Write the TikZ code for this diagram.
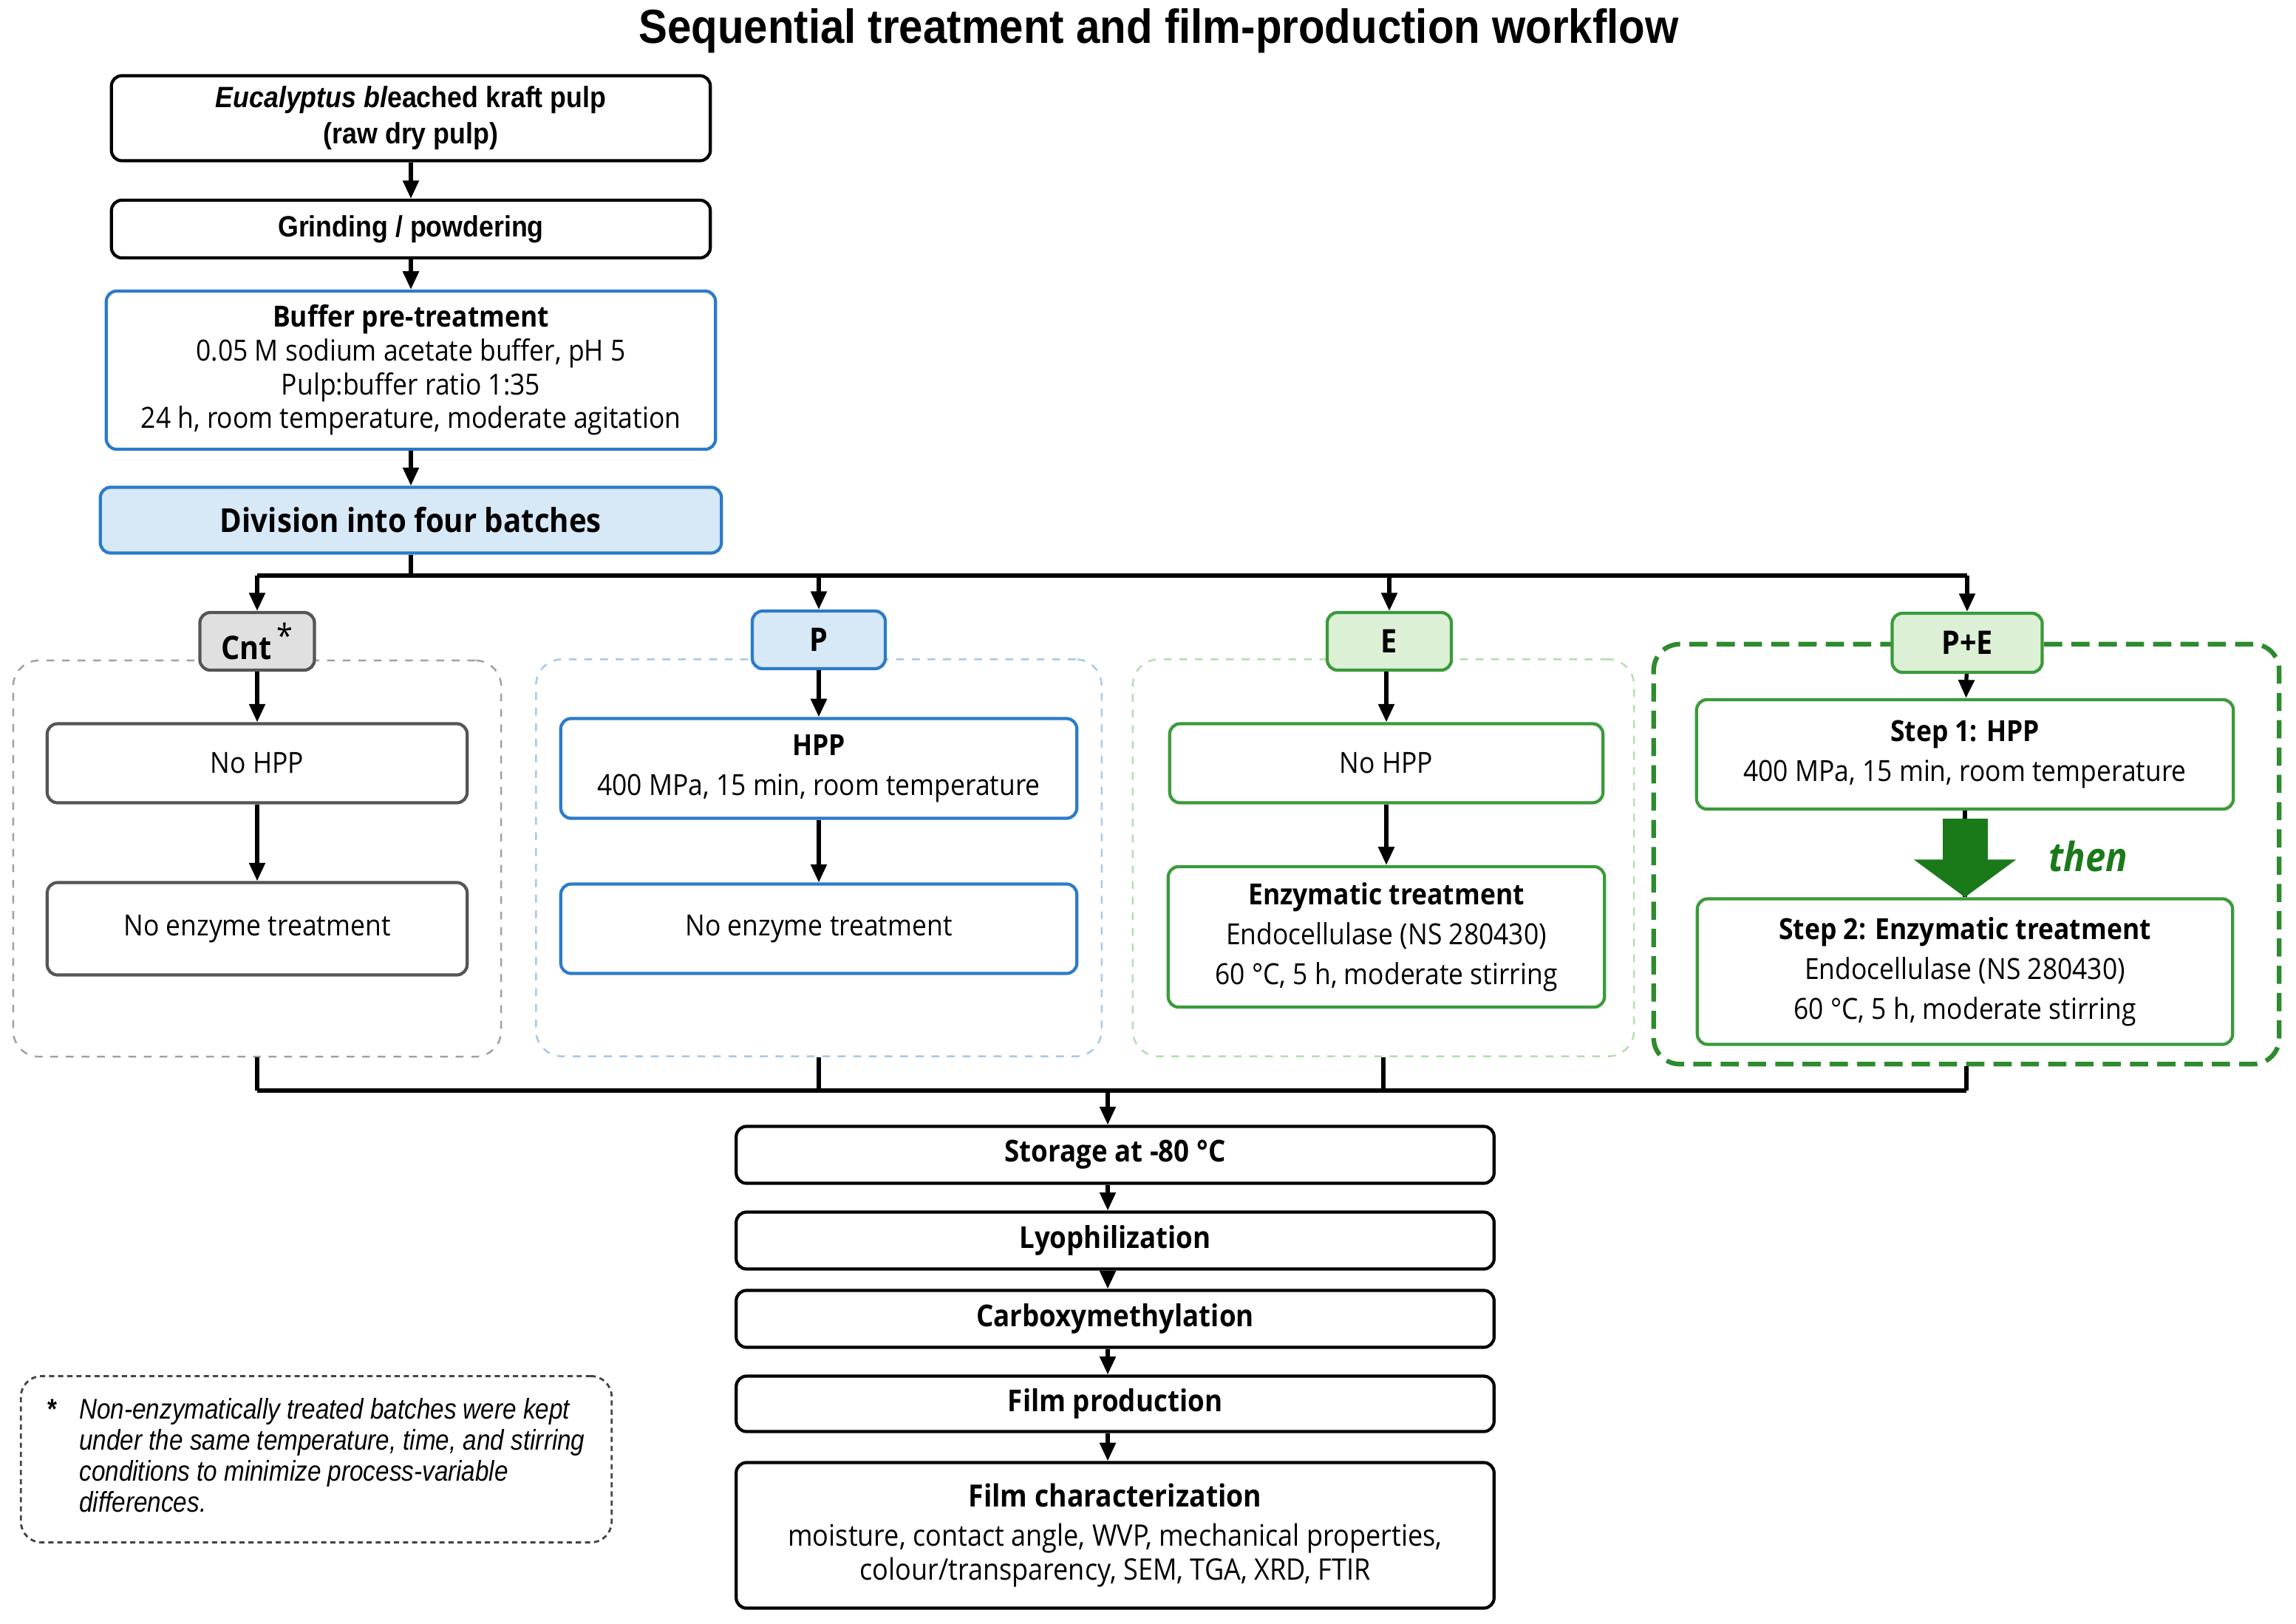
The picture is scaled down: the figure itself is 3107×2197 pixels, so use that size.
\documentclass[tikz,border=0pt]{standalone}
\usepackage{fontspec}
\setmainfont{Open Sans}[FakeStretch=0.9]
\newfontfamily\arialfont{Liberation Sans}[FakeStretch=0.9]
\newfontfamily\notefont{Liberation Sans}[FakeStretch=0.86]
\usetikzlibrary{arrows.meta}
\definecolor{hppBlue}{HTML}{2B7BC9}
\definecolor{hppFill}{HTML}{D7E8F7}
\definecolor{hppDash}{HTML}{A8C8E8}
\definecolor{enzGreen}{HTML}{3A9A3A}
\definecolor{enzFill}{HTML}{DCF0D6}
\definecolor{enzDash}{HTML}{B5DDB0}
\definecolor{peGreen}{HTML}{2E8B2E}
\definecolor{thenGreen}{HTML}{1A7A1A}
\definecolor{cntEdge}{HTML}{555555}
\definecolor{cntFill}{HTML}{E0E0E0}
\definecolor{cntDash}{HTML}{A0A0A0}
\definecolor{noteEdge}{HTML}{444444}

\begin{document}
\begin{tikzpicture}[x=0.01cm,y=-0.01cm,>={Triangle[length=7pt,width=6pt]},
  every node/.style={font=\fontsize{11.2}{15.3}\selectfont},
  box/.style={draw,rounded corners=4pt,line width=1.2pt,align=center,inner sep=2pt},
  blackbox/.style={box,draw=black},
  graybox/.style={box,draw=cntEdge},
  bluebox/.style={box,draw=hppBlue},
  greenbox/.style={box,draw=enzGreen},
  tag/.style={box,font=\fontsize{12.5}{14}\selectfont\bfseries,minimum height=0.78cm},
  group/.style={draw,dashed,rounded corners=10pt,line width=0.7pt},
  link/.style={line width=1.5pt}]
\useasboundingbox (0,0) rectangle (3107,2197);

\node[font=\arialfont\bfseries\fontsize{18.4}{20}\selectfont] (title) at (1568,42) {Sequential treatment and film-production workflow};

\node[blackbox,minimum width=8.10cm,minimum height=1.15cm,font=\arialfont\bfseries\fontsize{11.3}{14}\selectfont] (pulp) at (556,160) {{\itshape Eucalyptus bl}eached kraft pulp\\(raw dry pulp)};
\node[blackbox,minimum width=8.10cm,minimum height=0.78cm,font=\arialfont\bfseries\fontsize{11.3}{14}\selectfont] (grind) at (556,310) {Grinding / powdering};
\node[bluebox,minimum width=8.24cm,minimum height=2.14cm,font=\fontsize{11.2}{13}\selectfont] (buffer) at (556,501) {\textbf{Buffer pre-treatment}\\0.05 M sodium acetate buffer, pH 5\\Pulp:buffer ratio 1:35\\24 h, room temperature, moderate agitation};
\node[bluebox,fill=hppFill,minimum width=8.40cm,minimum height=0.89cm,font=\fontsize{12.7}{14}\selectfont\bfseries] (divide) at (556,704) {Division into four batches};

\node[group,draw=cntDash,minimum width=6.60cm,minimum height=5.36cm] (cntgrp) at (348,1162) {};
\node[group,draw=hppDash,minimum width=7.65cm,minimum height=5.37cm] (pgrp) at (1108,1161) {};
\node[group,draw=enzDash,minimum width=6.78cm,minimum height=5.37cm] (egrp) at (1872,1161) {};
\node[group,draw=peGreen,line width=1.8pt,dash pattern=on 7pt off 3.5pt,minimum width=8.46cm,minimum height=5.68cm] (pegrp) at (2661,1156) {};

\node[tag,draw=cntEdge,fill=cntFill,minimum width=1.55cm] (cnt) at (348,868) {Cnt\,\raisebox{0.35em}{\mdseries *}};
\node[tag,draw=hppBlue,fill=hppFill,minimum width=1.80cm] (plab) at (1108,866) {P};
\node[tag,draw=enzGreen,fill=enzFill,minimum width=1.68cm] (elab) at (1880,868) {E};
\node[tag,draw=enzGreen,fill=enzFill,minimum width=2.03cm,minimum height=0.80cm] (pelab) at (2662,870) {P+E};

\node[graybox,minimum width=5.68cm,minimum height=1.07cm] (c1) at (348,1033) {No HPP};
\node[graybox,minimum width=5.68cm,minimum height=1.25cm] (c2) at (348,1257) {No enzyme treatment};
\node[bluebox,minimum width=6.98cm,minimum height=1.35cm] (p1) at (1108,1040) {\textbf{HPP}\\400 MPa, 15 min, room temperature};
\node[bluebox,minimum width=6.98cm,minimum height=1.21cm] (p2) at (1108,1257) {No enzyme treatment};
\node[greenbox,minimum width=5.86cm,minimum height=1.07cm] (e1) at (1876,1033) {No HPP};
\node[greenbox,minimum width=5.90cm,minimum height=1.90cm] (e2) at (1876,1268) {\textbf{Enzymatic treatment}\\Endocellulase (NS 280430)\\60 °C, 5 h, moderate stirring};
\node[greenbox,minimum width=7.26cm,minimum height=1.48cm] (pe1) at (2659,1021) {\textbf{Step 1: HPP}\\400 MPa, 15 min, room temperature};
\node[greenbox,minimum width=7.24cm,minimum height=1.97cm] (pe2) at (2659,1315) {\textbf{Step 2: Enzymatic treatment}\\Endocellulase (NS 280430)\\60 °C, 5 h, moderate stirring};
\node[text=thenGreen,font=\fontsize{15.5}{17}\selectfont\bfseries\itshape] (then) at (2826,1159) {then};

\node[blackbox,minimum width=10.25cm,minimum height=0.77cm,font=\fontsize{11.6}{14}\selectfont\bfseries] (store) at (1509,1563) {Storage at -80 °C};
\node[blackbox,minimum width=10.25cm,minimum height=0.77cm,font=\fontsize{11.6}{14}\selectfont\bfseries] (lyo) at (1509,1679) {Lyophilization};
\node[blackbox,minimum width=10.25cm,minimum height=0.77cm,font=\fontsize{11.6}{14}\selectfont\bfseries] (carb) at (1509,1785) {Carboxymethylation};
\node[blackbox,minimum width=10.25cm,minimum height=0.75cm,font=\fontsize{11.6}{14}\selectfont\bfseries] (film) at (1509,1900) {Film production};
\node[blackbox,minimum width=10.25cm,minimum height=1.97cm,font=\fontsize{11.4}{13}\selectfont] (charac) at (1509,2078) {{\fontsize{11.8}{13}\selectfont\bfseries Film characterization}\\[2pt]moisture, contact angle, WVP, mechanical properties,\\colour/transparency, SEM, TGA, XRD, FTIR};

\node[draw=noteEdge,line width=0.8pt,dash pattern=on 2pt off 1.5pt,rounded corners=8pt,minimum width=7.99cm,minimum height=2.25cm,font=\notefont\fontsize{11}{11.9}\selectfont] (note) at (428,1975) {\textbf{*}\hspace{0.3cm}\begin{tabular}[t]{@{}l@{}}\itshape Non-enzymatically treated batches were kept\\\itshape under the same temperature, time, and stirring\\\itshape conditions to minimize process-variable\\\itshape differences.\end{tabular}};

\coordinate (split) at (556,779);
\coordinate (merge) at (1499,1476);
\draw[link,->] (pulp) -- (grind);
\draw[link,->] (grind) -- (buffer);
\draw[link,->] (buffer) -- (divide);
\draw[link] (divide) -- (split);
\draw[link] (split -| cnt) -- (split -| pelab);
\foreach \t in {cnt,plab,elab,pelab}
  \draw[link,->] (split -| \t) -- (\t);
\draw[link,->] (cnt) -- (c1);
\draw[link,->] (c1) -- (c2);
\draw[link,->] (plab) -- (p1);
\draw[link,->] (p1) -- (p2);
\draw[link,->] (elab.south -| e1) -- (e1);
\draw[link,->] (e1) -- (e2);
\draw[link,->] (pelab) -- (pe1);
\draw[link] (pe1) -- (pe2);
\draw[thenGreen,line width=0.61cm,-{Triangle[length=0.51cm,width=1.36cm]},shorten <=0.11cm] (pe1) -- (pe2);
\foreach \g in {cntgrp,pgrp,egrp,pegrp}
  \draw[link] (\g) -- (\g |- merge);
\draw[link] (merge -| cntgrp) -- (merge -| pegrp);
\draw[link,->] (merge) -- (merge |- store.north);
\draw[link,->] (store.south -| merge) -- (lyo.north -| merge);
\draw[link,->] (lyo.south -| merge) -- (carb.north -| merge);
\draw[link,->] (carb.south -| merge) -- (film.north -| merge);
\draw[link,->] (film.south -| merge) -- (charac.north -| merge);
\end{tikzpicture}
\end{document}
